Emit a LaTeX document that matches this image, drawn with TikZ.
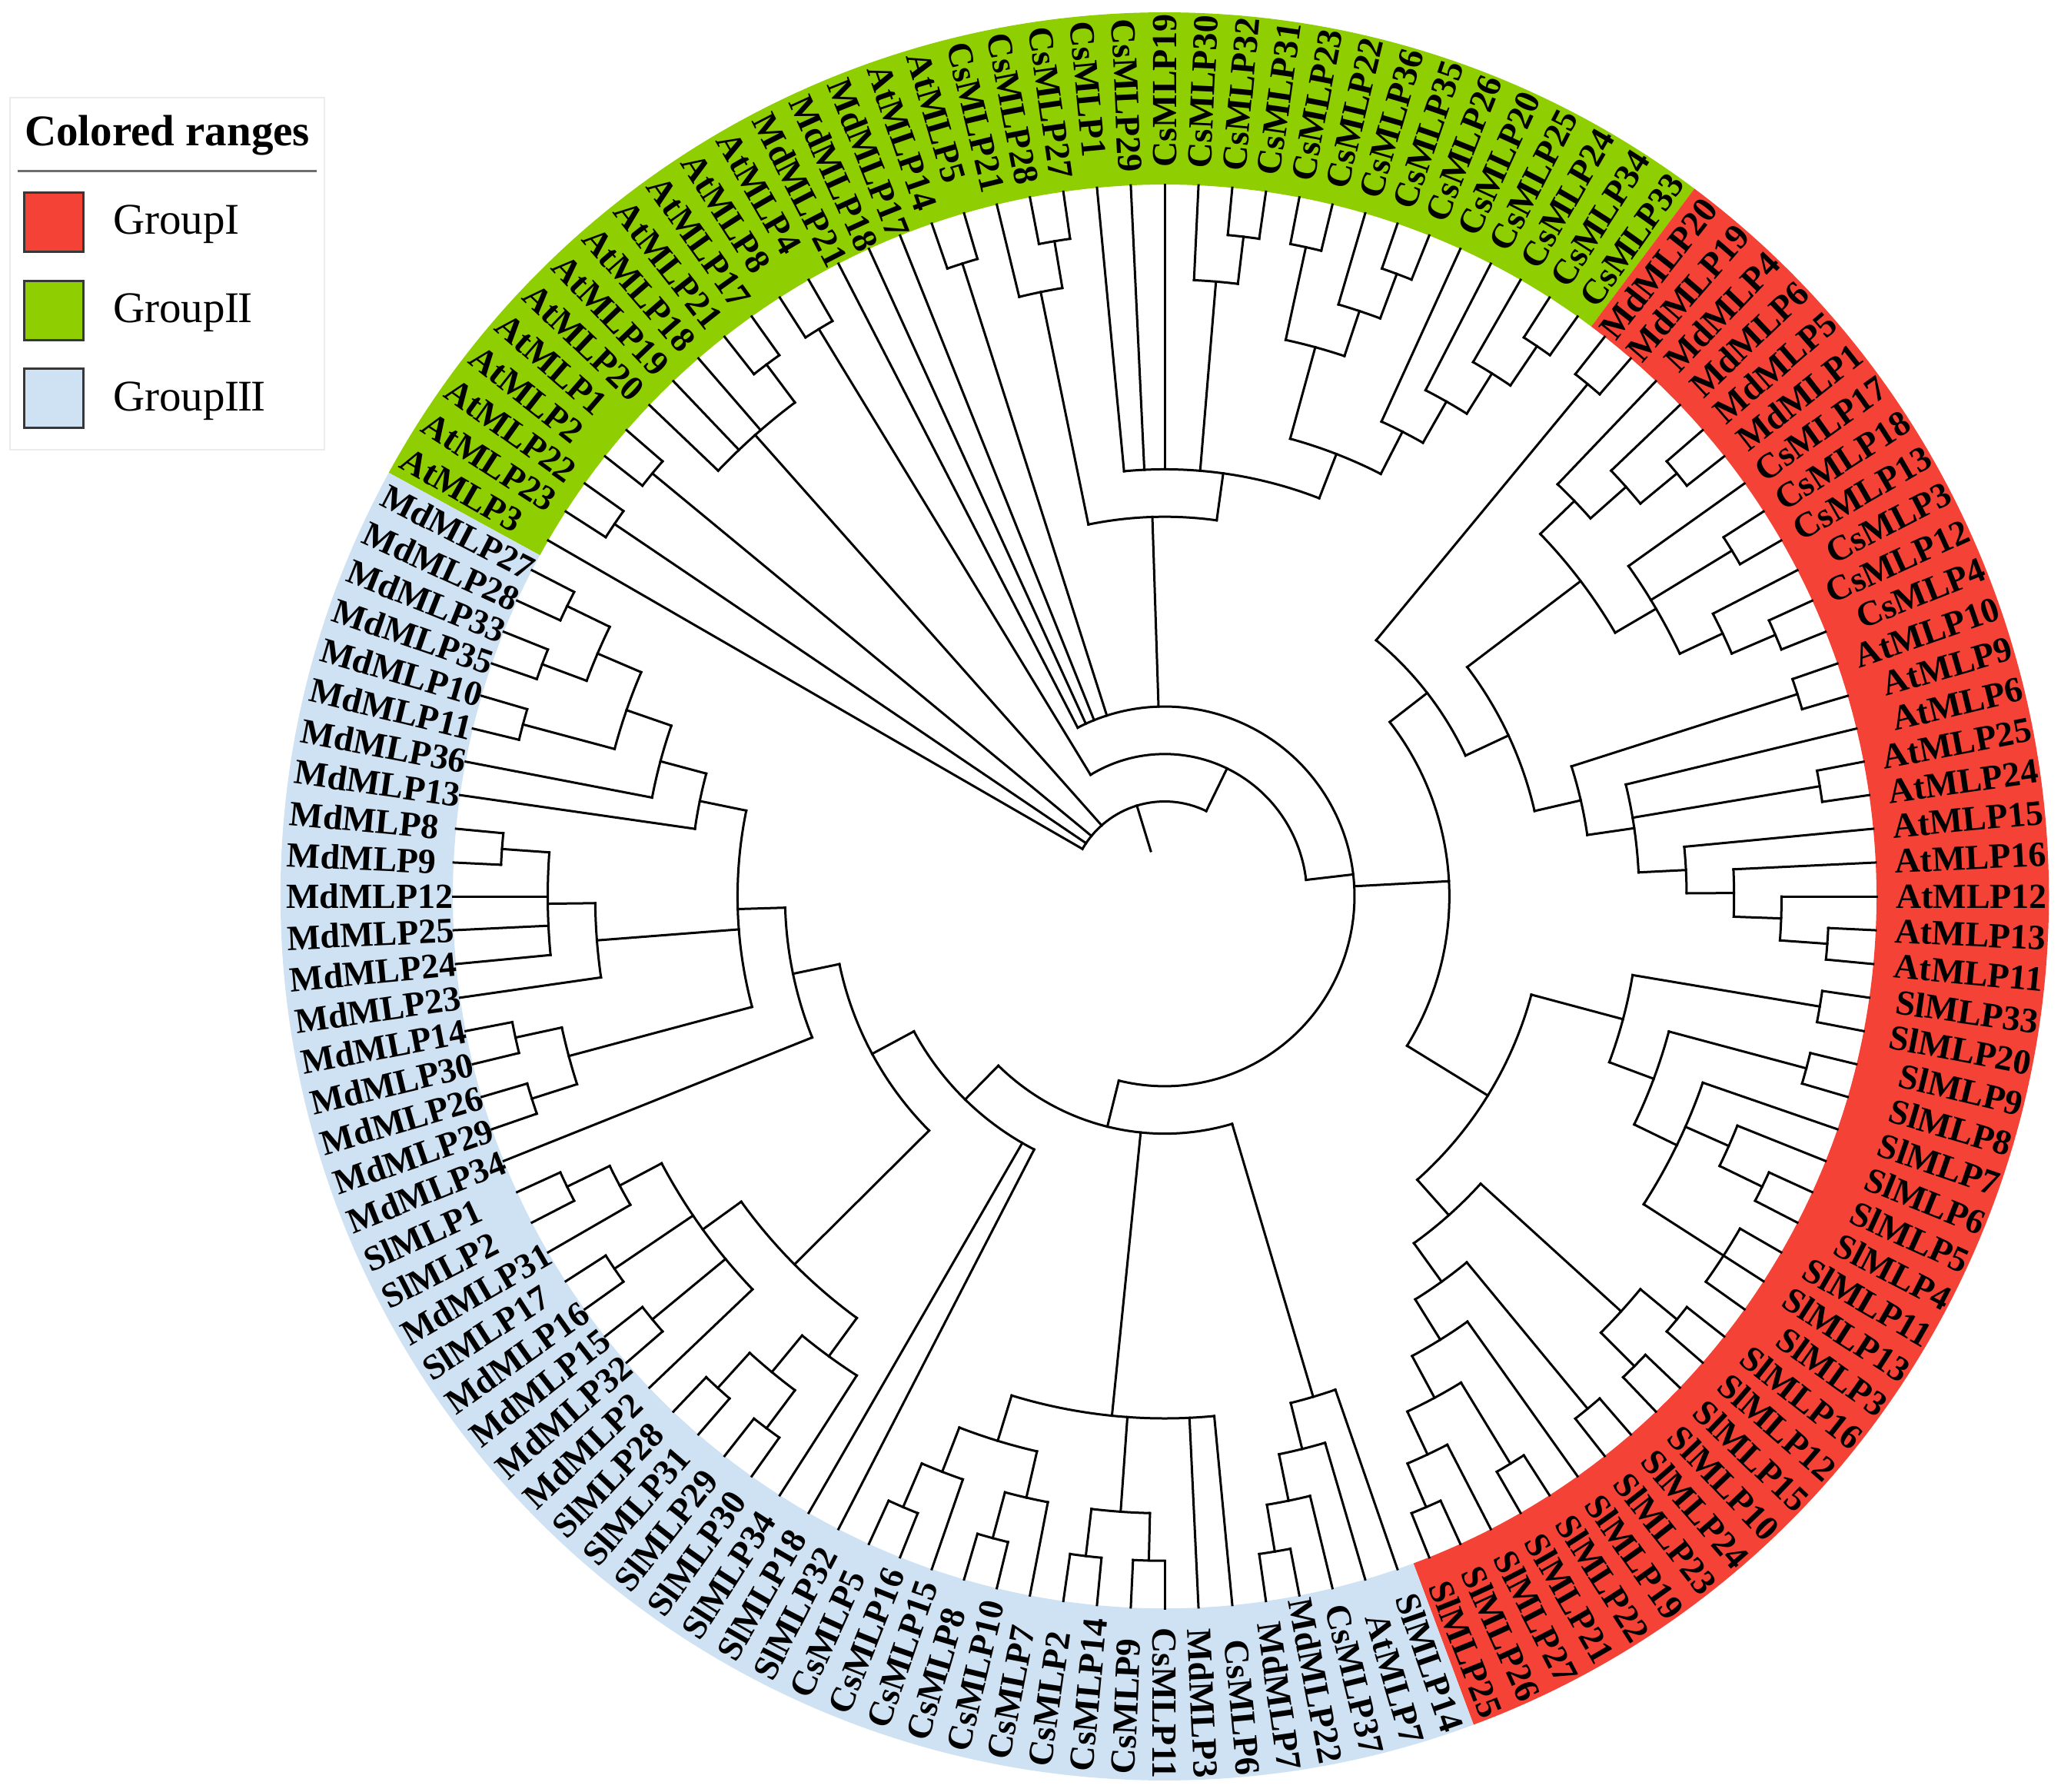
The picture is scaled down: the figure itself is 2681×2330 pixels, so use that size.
\documentclass[tikz,border=0pt]{standalone}
\usepackage{fontspec}
\setmainfont{Liberation Serif}
\definecolor{grpI}{RGB}{244,67,54}
\definecolor{grpII}{RGB}{143,206,0}
\definecolor{grpIII}{RGB}{207,226,243}
\definecolor{legedge}{RGB}{55,55,55}
\definecolor{legframe}{RGB}{236,236,236}
\definecolor{legrule}{RGB}{110,110,110}
\newcommand\levu{61.73}
\newcommand\stepang{2.72727273}
\newcommand\mkclade[3]{%
  \gdef\cfirst{}%
  \foreach \ch in {#3}{%
    \ifx\cfirst\empty\xdef\cfirst{\ch}\fi
    \xdef\clast{\ch}%
  }%
  \edef\af{\csname a@\cfirst\endcsname}%
  \edef\al{\csname a@\clast\endcsname}%
  \pgfmathsetmacro\am{(\af+\al)/2}%
  \pgfmathsetmacro\rr{#2*\levu}%
  \expandafter\xdef\csname a@#1\endcsname{\am}%
  \coordinate (#1) at (\am:\rr pt);
  \draw[branch] (\af:\rr pt) arc[start angle=\af, end angle=\al, radius=\rr pt];
  \foreach \ch in {#3}{%
    \edef\ac{\csname a@\ch\endcsname}%
    \draw[branch] (\ac:\rr pt) -- (\ch);
  }%
}
\tikzset{
  branch/.style={line width=3pt, line cap=rect, draw=black},
  leaflab/.style={inner sep=0pt, font=\bfseries\fontsize{46}{50}\selectfont},
  legtext/.style={inner sep=0pt, anchor=base west, font=\fontsize{57}{60}\selectfont},
  legsq/.style={draw=legedge, line width=3pt, minimum size=77pt, inner sep=0pt, anchor=north west}
}
\begin{document}
\begin{tikzpicture}
\useasboundingbox (-1515pt,-1164pt) rectangle (1166pt,1166pt);
% coloured ranges
\fill[grpII] (151.3636:926pt) arc[start angle=151.3636, end angle=53.1818, radius=926pt]
  -- (53.1818:1150pt) arc[start angle=53.1818, end angle=151.3636, radius=1150pt] -- cycle;
\fill[grpI] (53.1818:926pt) arc[start angle=53.1818, end angle=-69.5455, radius=926pt]
  -- (-69.5455:1150pt) arc[start angle=-69.5455, end angle=53.1818, radius=1150pt] -- cycle;
\fill[grpIII] (-69.5455:926pt) arc[start angle=-69.5455, end angle=-208.6364, radius=926pt]
  -- (-208.6364:1150pt) arc[start angle=-208.6364, end angle=-69.5455, radius=1150pt] -- cycle;
% leaves and labels
\foreach \nm [count=\i from 0] in {AtMLP3,AtMLP23,AtMLP22,AtMLP2,AtMLP1,AtMLP20,AtMLP19,AtMLP18,AtMLP21,AtMLP17,AtMLP8,AtMLP4,MdMLP21,MdMLP18,MdMLP17,AtMLP14,AtMLP5,CsMLP21,CsMLP28,CsMLP27,CsMLP1,CsMLP29,CsMLP19,CsMLP30,CsMLP32,CsMLP31,CsMLP23,CsMLP22,CsMLP36,CsMLP35,CsMLP26,CsMLP20,CsMLP25,CsMLP24,CsMLP34,CsMLP33,MdMLP20,MdMLP19,MdMLP4,MdMLP6,MdMLP5,MdMLP1,CsMLP17,CsMLP18,CsMLP13,CsMLP3,CsMLP12,CsMLP4,AtMLP10,AtMLP9,AtMLP6,AtMLP25,AtMLP24,AtMLP15,AtMLP16,AtMLP12,AtMLP13,AtMLP11,SlMLP33,SlMLP20,SlMLP9,SlMLP8,SlMLP7,SlMLP6,SlMLP5,SlMLP4,SlMLP11,SlMLP13,SlMLP3,SlMLP16,SlMLP12,SlMLP15,SlMLP10,SlMLP24,SlMLP23,SlMLP19,SlMLP22,SlMLP21,SlMLP27,SlMLP26,SlMLP25,SlMLP14,AtMLP7,CsMLP37,MdMLP22,MdMLP7,CsMLP6,MdMLP3,CsMLP11,CsMLP9,CsMLP14,CsMLP2,CsMLP7,CsMLP10,CsMLP8,CsMLP15,CsMLP16,CsMLP5,SlMLP32,SlMLP18,SlMLP34,SlMLP30,SlMLP29,SlMLP31,SlMLP28,MdMLP2,MdMLP32,MdMLP15,MdMLP16,SlMLP17,MdMLP31,SlMLP2,SlMLP1,MdMLP34,MdMLP29,MdMLP26,MdMLP30,MdMLP14,MdMLP23,MdMLP24,MdMLP25,MdMLP12,MdMLP9,MdMLP8,MdMLP13,MdMLP36,MdMLP11,MdMLP10,MdMLP35,MdMLP33,MdMLP28,MdMLP27}{%
  \pgfmathsetmacro\ang{150-\i*\stepang}%
  \expandafter\xdef\csname a@l\i\endcsname{\ang}%
  \coordinate (l\i) at (\ang:926pt);
  \pgfmathtruncatemacro\flip{cos(\ang)<-0.01?1:0}%
  \ifnum\flip=1
    \pgfmathsetmacro\rot{\ang+180}%
    \node[leaflab,anchor=west,rotate=\rot] (t\i) at (\ang:1143pt) {\nm};
  \else
    \node[leaflab,anchor=east,rotate=\ang] (t\i) at (\ang:1148pt) {\nm};
  \fi
}
% ---- Group II clades
\mkclade{cA}{14}{l1,l2}
\mkclade{cB}{14}{l3,l4}
\mkclade{cAtb}{14}{l8,l9}
\mkclade{cAta}{13}{l5,l6,l7,cAtb}
\mkclade{cC}{14}{l10,l11}
\mkclade{cAtc}{14}{l15,l16}
\mkclade{cE}{14}{l18,l19}
\mkclade{cD}{13}{l17,cE}
\mkclade{cFb}{14}{l24,l25}
\mkclade{cF}{13}{l23,cFb}
\mkclade{cHa}{14}{l26,l27}
\mkclade{cHb}{14}{l29,l30}
\mkclade{cHc}{13}{l28,cHb}
\mkclade{cHd}{12}{cHa,cHc}
\mkclade{cIa}{14}{l34,l35}
\mkclade{cIb}{13}{l33,cIa}
\mkclade{cIc}{12}{l32,cIb}
\mkclade{cHe}{11}{l31,cIc}
\mkclade{cH}{10}{cHd,cHe}
\mkclade{cG}{9}{l20,l21,l22,cF,cH}
\mkclade{cCs}{8}{cD,cG}
% ---- Group I clades
\mkclade{cJ}{14}{l36,l37}
\mkclade{cKa}{14}{l40,l41}
\mkclade{cKb}{13}{l39,cKa}
\mkclade{cK}{12}{l38,cKb}
\mkclade{cLa}{14}{l43,l44}
\mkclade{cLb}{14}{l46,l47}
\mkclade{cX}{13}{l45,cLb}
\mkclade{cL}{12}{l42,cLa,cX}
\mkclade{cM}{11}{cK,cL}
\mkclade{cOa}{14}{l48,l49}
\mkclade{cPa}{14}{l51,l52}
\mkclade{cSa}{14}{l56,l57}
\mkclade{cS}{13}{l55,cSa}
\mkclade{cR}{12}{l54,cS}
\mkclade{cQ}{11}{l53,cR}
\mkclade{cP}{10}{l50,cPa,cQ}
\mkclade{cO}{9}{cOa,cP}
\mkclade{cN}{8}{cM,cO}
\mkclade{cT}{7}{cJ,cN}
\mkclade{cWa}{14}{l58,l59}
\mkclade{cWb}{14}{l60,l61}
\mkclade{cWc}{14}{l64,l65}
\mkclade{cWd}{13}{l63,cWc}
\mkclade{cWe}{14}{l66,l67,l68}
\mkclade{cWf}{12}{l62,cWd,cWe}
\mkclade{cWg}{11}{cWb,cWf}
\mkclade{cW}{10}{cWa,cWg}
\mkclade{cYa}{14}{l69,l70}
\mkclade{cYb}{14}{l71,l72}
\mkclade{cY}{13}{cYa,cYb}
\mkclade{cZa}{14}{l73,l74}
\mkclade{cZb}{14}{l76,l77}
\mkclade{cZc}{14}{l79,l80}
\mkclade{cZd}{13}{l78,cZc}
\mkclade{cZe}{12}{cZb,cZd}
\mkclade{cZf}{11}{l75,cZe}
\mkclade{cZg}{10}{cZa,cZf}
\mkclade{cZ}{9}{cY,cZg}
\mkclade{cV}{8}{cW,cZ}
\mkclade{cU}{6}{cT,cV}
% ---- Group III clades
\mkclade{cCa}{14}{l84,l85}
\mkclade{cCb}{13}{l83,cCa}
\mkclade{cCc}{12}{l82,cCb}
\mkclade{cCC}{11}{l81,cCc}
\mkclade{cDa}{14}{l88,l89}
\mkclade{cDb}{14}{l90,l91}
\mkclade{cDc}{13}{cDa,cDb}
\mkclade{cDd}{14}{l93,l94}
\mkclade{cDe}{13}{l92,cDd}
\mkclade{cDf}{14}{l96,l97}
\mkclade{cDg}{13}{l95,cDf}
\mkclade{cDh}{12}{cDe,cDg}
\mkclade{cDD}{11}{l86,l87,cDc,cDh}
\mkclade{cGa}{14}{l101,l102}
\mkclade{cGb}{14}{l103,l104}
\mkclade{cGG}{13}{cGa,cGb}
\mkclade{cHH}{12}{l100,cGG}
\mkclade{cJa}{14}{l106,l107}
\mkclade{cJb}{14}{l108,l109}
\mkclade{cJc}{14}{l111,l112}
\mkclade{cJd}{13}{l110,cJc}
\mkclade{cJJ}{12}{l105,cJa,cJb,cJd}
\mkclade{cII}{11}{cHH,cJJ}
\mkclade{cRa}{14}{l114,l115}
\mkclade{cRb}{14}{l116,l117}
\mkclade{cRR}{13}{cRa,cRb}
\mkclade{cQa}{14}{l122,l123}
\mkclade{cQQ}{13}{l119,l120,l121,cQa}
\mkclade{cPP}{12}{l118,cQQ}
\mkclade{cLa2}{14}{l126,l127}
\mkclade{cKa2}{14}{l128,l129}
\mkclade{cKb2}{14}{l130,l131}
\mkclade{cKK}{13}{cKa2,cKb2}
\mkclade{cLL}{12}{cLa2,cKK}
\mkclade{cMM}{11}{l125,cLL}
\mkclade{cNN}{10}{l124,cMM}
\mkclade{cOO}{9}{cRR,cPP,cNN}
\mkclade{cSS}{8}{l113,cOO}
\mkclade{cFF}{7}{cII,cSS}
\mkclade{cEE}{6}{l98,l99,cFF}
\mkclade{cBB}{5}{cCC,cDD,cEE}
% ---- backbone
\mkclade{cNRb}{4}{l12,l13,l14,cAtc,cCs,cU,cBB}
\mkclade{cNR}{3}{cC,cNRb}
\mkclade{cRoot}{2}{l0,cA,cB,cAta,cNR}
\edef\rootang{\csname a@cRoot\endcsname}
\coordinate (rootbase) at (\rootang:61.73pt);
\draw[branch] (rootbase) -- (cRoot);
% ---- legend
\draw[draw=legframe, line width=2.5pt, fill=white] (-1502pt,581pt) rectangle (-1093pt,1039pt);
\node[inner sep=0pt, anchor=base west, font=\bfseries\fontsize{57}{60}\selectfont] (legtitle) at (-1483pt,976pt) {Colored ranges};
\draw[draw=legrule, line width=3pt] (-1492pt,943pt) -- (-1103pt,943pt);
\node[legsq, fill=grpI] (sqI) at (-1485pt,917pt) {};
\node[legsq, fill=grpII] (sqII) at (-1485pt,802pt) {};
\node[legsq, fill=grpIII] (sqIII) at (-1485pt,688pt) {};
\node[legtext] (gI) at (-1368pt,861pt) {GroupI};
\node[legtext] (gII) at (-1368pt,746pt) {GroupI\kern-0.04em I};
\node[legtext] (gIII) at (-1368pt,631pt) {GroupI\kern-0.04em I\kern-0.04em I};
\end{tikzpicture}
\end{document}
